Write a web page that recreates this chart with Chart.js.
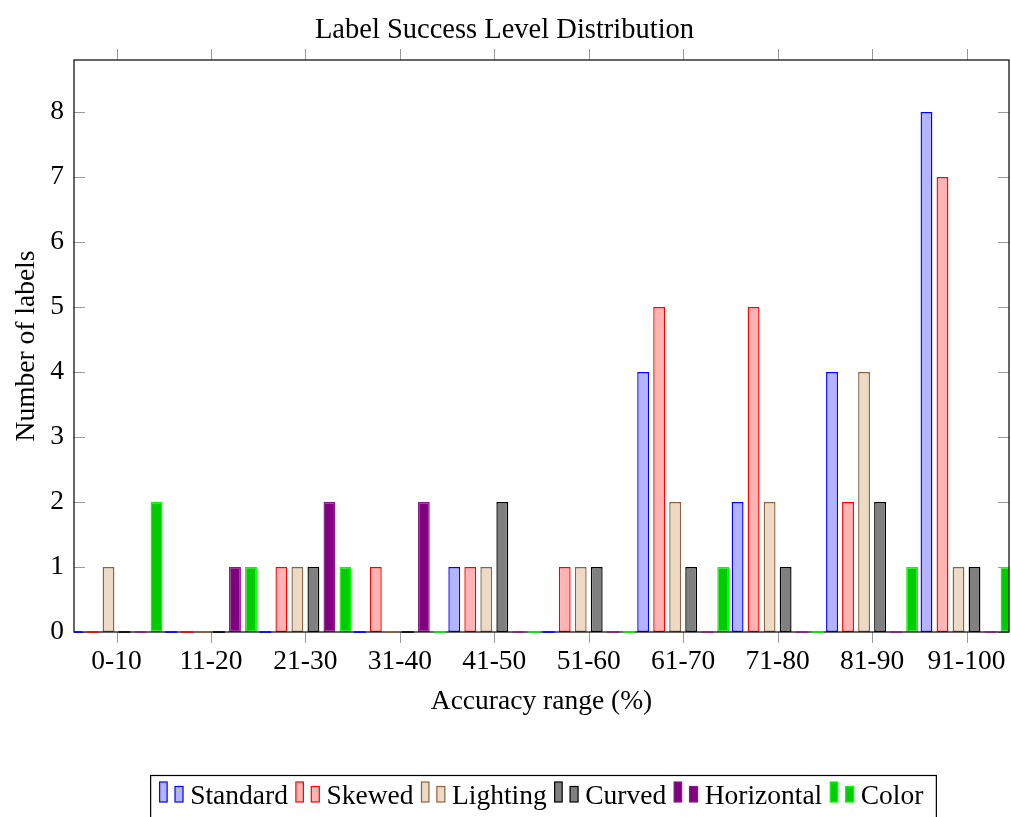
<!DOCTYPE html>
<html>
<head>
<meta charset="utf-8">
<script src="https://cdn.jsdelivr.net/npm/chart.js@4/dist/chart.umd.min.js"></script>
<style>
  html, body { margin: 0; padding: 0; background: #fff; }
  canvas { display: block; }
</style>
</head>
<body>
<canvas id="chart" width="1011" height="817"></canvas>
<script>
// Accuracy buckets and label counts per test condition
const categories = ['0-10', '11-20', '21-30', '31-40', '41-50', '51-60', '61-70', '71-80', '81-90', '91-100'];
const standard   = [0, 0, 0, 0, 1, 0, 4, 2, 4, 8];
const skewed     = [0, 0, 1, 1, 1, 1, 5, 5, 2, 7];
const lighting   = [1, 0, 1, 0, 1, 1, 2, 2, 4, 1];
const curved     = [0, 0, 1, 0, 2, 1, 1, 1, 2, 1];
const horizontal = [0, 1, 2, 2, 0, 0, 0, 0, 0, 0];
const colorSet   = [2, 1, 1, 0, 0, 0, 1, 0, 1, 1];
const yTickValues = [0, 1, 2, 3, 4, 5, 6, 7, 8];
const seriesNames = ['Standard', 'Skewed', 'Lighting', 'Curved', 'Horizontal', 'Color'];
const seriesValues = [standard, skewed, lighting, curved, horizontal, colorSet];

// Fill / outline per series
const seriesStyles = [
  { fill: '#b3b3ff', stroke: '#0000ff' },
  { fill: '#ffb3b3', stroke: '#ff0000' },
  { fill: '#ecd9c6', stroke: '#8a6440' },
  { fill: '#808080', stroke: '#000000' },
  { fill: '#800080', stroke: '#8a1a8a' },
  { fill: '#00cc00', stroke: '#00ff00' }
];

const FONT = '"Liberation Serif", "Times New Roman", serif';
const FONT_SIZE = 27.5;
Chart.defaults.font.family = FONT;
Chart.defaults.font.size = FONT_SIZE;
Chart.defaults.color = '#000';

const datasets = seriesNames.map((name, s) => ({
  label: name,
  data: seriesValues[s].map((v, i) => ({ x: i, y: v })),
  backgroundColor: seriesStyles[s].fill,
  borderColor: seriesStyles[s].stroke,
  borderWidth: 1.4,
  borderSkipped: false,
  categoryPercentage: 1.017,
  barPercentage: 0.74
}));

// Axis box, tick marks, and flat strokes for zero-height bars
const framePlugin = {
  id: 'frame',
  afterDatasetsDraw(chart) {
    const { ctx, chartArea: a, scales: { x, y } } = chart;
    ctx.save();
    ctx.strokeStyle = '#9a9a9a';
    ctx.lineWidth = 1;
    ctx.beginPath();
    x.ticks.forEach(t => {
      const px = Math.round(x.getPixelForValue(t.value)) + 0.5;
      ctx.moveTo(px, a.top); ctx.lineTo(px, a.top - 11);
      ctx.moveTo(px, a.bottom); ctx.lineTo(px, a.bottom + 11);
    });
    y.ticks.forEach(t => {
      const py = Math.round(y.getPixelForValue(t.value)) + 0.5;
      ctx.moveTo(a.left, py); ctx.lineTo(a.left + 11, py);
      ctx.moveTo(a.right, py); ctx.lineTo(a.right - 11, py);
    });
    ctx.stroke();

    ctx.strokeStyle = '#000';
    ctx.lineWidth = 1.2;
    ctx.strokeRect(a.left, a.top, a.right - a.left, a.bottom - a.top);

    ctx.beginPath();
    ctx.rect(a.left, a.top - 2, a.right - a.left, a.bottom - a.top + 4);
    ctx.clip();
    chart.data.datasets.forEach((ds, di) => {
      const meta = chart.getDatasetMeta(di);
      meta.data.forEach((el, i) => {
        if (ds.data[i].y !== 0) return;
        const p = el.getProps(['x', 'width', 'base'], true);
        ctx.strokeStyle = ds.borderColor;
        ctx.lineWidth = 1.6;
        ctx.beginPath();
        ctx.moveTo(p.x - p.width / 2, p.base);
        ctx.lineTo(p.x + p.width / 2, p.base);
        ctx.stroke();
      });
    });
    ctx.restore();
  }
};

// Framed legend row with a pair of bar icons per series
const legendPlugin = {
  id: 'barLegend',
  afterDraw(chart) {
    const { ctx, chartArea: a } = chart;
    ctx.save();
    ctx.font = FONT_SIZE + 'px ' + FONT;
    const iconSpan = 30.5, gap = 8, padL = 9, padR = 13;
    const widths = seriesNames.map(n => ctx.measureText(n).width);
    const total = widths.reduce((s, w) => s + iconSpan + w, 0) + gap * (seriesNames.length - 1);
    const cx = (a.left + a.right) / 2;
    let x0 = cx - total / 2;
    const boxTop = 775.5;
    ctx.strokeStyle = '#000';
    ctx.lineWidth = 1.2;
    ctx.strokeRect(x0 - padL, boxTop, total + padL + padR, 70);
    ctx.textBaseline = 'alphabetic';
    seriesNames.forEach((n, s) => {
      const st = seriesStyles[s];
      ctx.fillStyle = st.fill;
      ctx.strokeStyle = st.stroke;
      ctx.lineWidth = 1.2;
      ctx.fillRect(x0, 782, 7.5, 20);
      ctx.strokeRect(x0, 782, 7.5, 20);
      ctx.fillRect(x0 + 15.4, 786.5, 8, 15.5);
      ctx.strokeRect(x0 + 15.4, 786.5, 8, 15.5);
      ctx.fillStyle = '#000';
      ctx.fillText(n, x0 + iconSpan, 804);
      x0 += iconSpan + widths[s] + gap;
    });
    ctx.restore();
  }
};

new Chart(document.getElementById('chart'), {
  type: 'bar',
  data: { datasets },
  plugins: [framePlugin, legendPlugin],
  options: {
    responsive: false,
    animation: false,
    layout: { padding: { left: 0, right: 2, top: 0, bottom: 90 } },
    plugins: {
      legend: { display: false },
      tooltip: { enabled: false },
      title: {
        display: true,
        text: 'Label Success Level Distribution',
        color: '#000',
        font: { size: 28.5, weight: 'normal' },
        padding: { top: 13, bottom: 12.8 }
      }
    },
    scales: {
      x: {
        type: 'linear',
        min: -0.45,
        max: 9.45,
        offset: false,
        grid: { display: false, drawTicks: false },
        border: { display: false },
        afterBuildTicks: s => { s.ticks = categories.map((_, i) => ({ value: i })); },
        afterFit: s => { s.height = 95; s.paddingLeft = 0; s.paddingRight = 0; },
        ticks: {
          autoSkip: false,
          maxRotation: 0,
          padding: 13,
          color: '#000',
          callback: v => categories[v]
        },
        title: {
          display: true,
          text: 'Accuracy range (%)',
          color: '#000',
          font: { size: FONT_SIZE },
          padding: { top: 0, bottom: 8.8 }
        }
      },
      y: {
        min: 0,
        max: 8.8,
        grid: { display: false, drawTicks: false },
        border: { display: false },
        afterBuildTicks: s => { s.ticks = yTickValues.map(v => ({ value: v })); },
        afterFit: s => { s.width = 74; s.paddingTop = 0; s.paddingBottom = 0; },
        ticks: { padding: 10, color: '#000' },
        title: {
          display: true,
          text: 'Number of labels',
          color: '#000',
          font: { size: FONT_SIZE },
          padding: { top: 10, bottom: 0 }
        }
      }
    }
  }
});
</script>
</body>
</html>
